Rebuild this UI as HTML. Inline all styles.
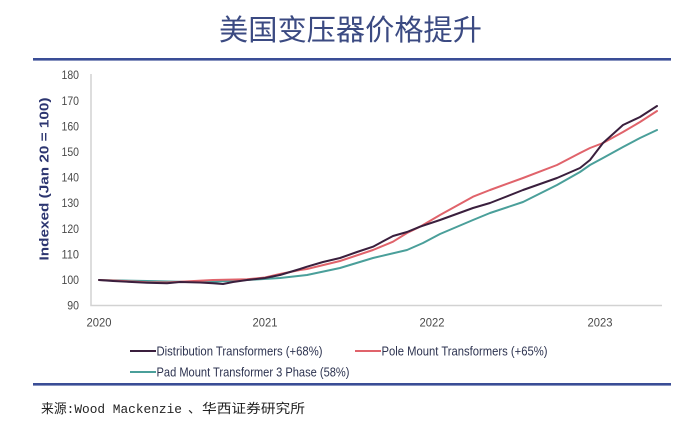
<!DOCTYPE html>
<html>
<head>
<meta charset="utf-8">
<style>
  html, body { margin: 0; padding: 0; background: #ffffff; }
  body { width: 686px; height: 435px; overflow: hidden; }
  svg { display: block; }
</style>
</head>
<body>
<svg width="686" height="435" viewBox="0 0 686 435" xmlns="http://www.w3.org/2000/svg">
  <rect width="686" height="435" fill="#ffffff"/>

  <!-- Title -->
  <text x="219" y="40" font-family="'Liberation Sans','Noto Sans CJK SC',sans-serif" font-size="29" fill="#3b4a82" textLength="263" lengthAdjust="spacingAndGlyphs">美国变压器价格提升</text>

  <!-- Top rule -->
  <rect x="33" y="58" width="638" height="2.6" fill="#3a4d96"/>

  <!-- Axes -->
  <line x1="91" y1="74" x2="91" y2="305.5" stroke="#d2d2d2" stroke-width="1.5"/>
  <line x1="90.3" y1="305.5" x2="662" y2="305.5" stroke="#d2d2d2" stroke-width="1.5"/>

  <!-- Y tick labels -->
  <g font-family="'Liberation Sans',sans-serif" font-size="12" fill="#4a4a4a" text-anchor="end">
    <text x="79" y="79.2" textLength="17.5" lengthAdjust="spacingAndGlyphs">180</text>
    <text x="79" y="104.8" textLength="17.5" lengthAdjust="spacingAndGlyphs">170</text>
    <text x="79" y="130.4" textLength="17.5" lengthAdjust="spacingAndGlyphs">160</text>
    <text x="79" y="156" textLength="17.5" lengthAdjust="spacingAndGlyphs">150</text>
    <text x="79" y="181.6" textLength="17.5" lengthAdjust="spacingAndGlyphs">140</text>
    <text x="79" y="207.2" textLength="17.5" lengthAdjust="spacingAndGlyphs">130</text>
    <text x="79" y="232.8" textLength="17.5" lengthAdjust="spacingAndGlyphs">120</text>
    <text x="79" y="258.4" textLength="17.5" lengthAdjust="spacingAndGlyphs">110</text>
    <text x="79" y="284" textLength="17.5" lengthAdjust="spacingAndGlyphs">100</text>
    <text x="79" y="309.6" textLength="11.7" lengthAdjust="spacingAndGlyphs">90</text>
  </g>

  <!-- Y axis title -->
  <text transform="translate(48.5,179) rotate(-90)" text-anchor="middle" font-family="'Liberation Sans',sans-serif" font-size="12.5" font-weight="bold" fill="#2c3570" textLength="163" lengthAdjust="spacingAndGlyphs">Indexed (Jan 20 = 100)</text>

  <!-- X tick labels -->
  <g font-family="'Liberation Sans',sans-serif" font-size="12" fill="#4a4a4a" text-anchor="middle">
    <text x="99" y="326.5" textLength="25" lengthAdjust="spacingAndGlyphs">2020</text>
    <text x="265" y="326.5" textLength="25" lengthAdjust="spacingAndGlyphs">2021</text>
    <text x="432" y="326.5" textLength="25" lengthAdjust="spacingAndGlyphs">2022</text>
    <text x="600" y="326.5" textLength="25" lengthAdjust="spacingAndGlyphs">2023</text>
  </g>

  <!-- Series -->
  <g fill="none" stroke-width="2" stroke-linejoin="round" stroke-linecap="round">
    <!-- Pad Mount (teal) -->
    <polyline stroke="#4a9f9a" points="99,280 147,281 180,281.7 213,281.7 247,280 280,278 307,275 340,268 373,258 407,250 423,243 440,234 473,220 490,213 523,202 557,185 580,172 590,165 603,158 623,147 640,138 657,130"/>
    <!-- Pole Mount (red) -->
    <polyline stroke="#e0636b" points="99,280 113,280.5 147,282.3 167,282.5 180,281.7 213,280 247,279.3 265,277.5 280,274 300,270 307,269 340,261 373,250 393,241.7 407,233 420,226.7 440,215 473,196.7 490,190 523,178 557,165 580,153 590,148 603,143 623,132 640,122 657,111"/>
    <!-- Distribution (dark) -->
    <polyline stroke="#3a1f3d" points="99,280 113,281 147,282.7 167,283.3 180,282 200,282.5 213,283.3 223,284 233,282 247,280 265,278 280,275 300,269 307,266.7 323,262 340,258 357,252 373,246.7 393,236 407,232 420,226.7 440,220 473,208 490,203 523,190 557,178 580,168 590,160 603,143 623,125 640,117 657,106"/>
  </g>

  <!-- Legend -->
  <g font-family="'Liberation Sans',sans-serif" font-size="13" fill="#2d3350">
    <line x1="130" y1="351" x2="156" y2="351" stroke="#3a1f3d" stroke-width="2"/>
    <text x="156.5" y="355.5" textLength="166" lengthAdjust="spacingAndGlyphs">Distribution Transformers (+68%)</text>

    <line x1="355" y1="351" x2="381" y2="351" stroke="#e0636b" stroke-width="2"/>
    <text x="381.5" y="355.5" textLength="166" lengthAdjust="spacingAndGlyphs">Pole Mount Transformers (+65%)</text>

    <line x1="130" y1="372" x2="156" y2="372" stroke="#4a9f9a" stroke-width="2"/>
    <text x="156.5" y="376.5" textLength="193" lengthAdjust="spacingAndGlyphs">Pad Mount Transformer 3 Phase (58%)</text>
  </g>

  <!-- Bottom rule -->
  <rect x="33" y="383" width="638" height="2.6" fill="#3a4d96"/>

  <!-- Source -->
  <g font-family="'Liberation Mono','Noto Sans CJK SC',monospace" font-size="13" fill="#222222">
    <text x="41" y="413" textLength="141" lengthAdjust="spacingAndGlyphs">来源:Wood Mackenzie</text>
    <text x="188" y="413">、</text>
    <text x="202" y="413" textLength="103" lengthAdjust="spacingAndGlyphs">华西证券研究所</text>
  </g>
</svg>
</body>
</html>
